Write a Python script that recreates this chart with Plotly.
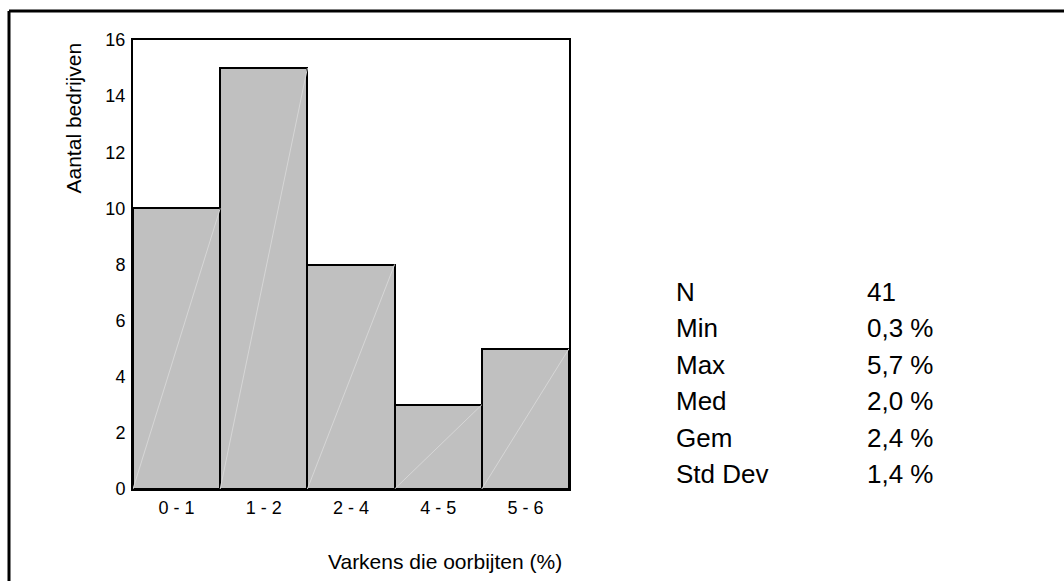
import plotly.graph_objects as go

# Klassen (% varkens die oorbijten) en aantal bedrijven per klasse
categories = ["0 - 1", "1 - 2", "2 - 4", "4 - 5", "5 - 6"]
counts = [10, 15, 8, 3, 5]

# Kengetallen rechts van de grafiek
stat_labels = ["N", "Min", "Max", "Med", "Gem", "Std Dev"]
stat_values = ["41", "0,3 %", "5,7 %", "2,0 %", "2,4 %", "1,4 %"]

y_ticks = [0, 2, 4, 6, 8, 10, 12, 14, 16]

FONT = "Arial, Liberation Sans, sans-serif"

W, H = 1064, 581
# plot area in page pixels
L, R, T, B = 133, 569, 40, 489


def px_x(x):
    return (x - L) / (R - L)


def px_y(y):
    return (B - y) / (B - T)


xs = list(range(len(categories)))

fig = go.Figure()

fig.add_trace(
    go.Bar(
        x=xs,
        y=counts,
        width=1,
        marker=dict(color="#C0C0C0", line=dict(color="black", width=2)),
        hoverinfo="skip",
        showlegend=False,
    )
)

# faint diagonal inside each bar (as in the original rendering)
for x, c in zip(xs, counts):
    fig.add_trace(
        go.Scatter(
            x=[x - 0.5, x + 0.5],
            y=[0, c],
            mode="lines",
            line=dict(color="#D6D6D6", width=1),
            hoverinfo="skip",
            showlegend=False,
        )
    )

annotations = []

# axis titles
annotations.append(
    dict(
        x=px_x(73), y=px_y(41), xref="paper", yref="paper",
        text="Aantal bedrijven", textangle=-90, showarrow=False,
        xanchor="center", yanchor="top",
        font=dict(family=FONT, size=21, color="black"),
    )
)
annotations.append(
    dict(
        x=px_x(564), y=px_y(561), xref="paper", yref="paper",
        text="Varkens die oorbijten (%)", showarrow=False,
        xanchor="right", yanchor="middle",
        font=dict(family=FONT, size=21, color="black"),
    )
)

# stats block
for i, (lab, val) in enumerate(zip(stat_labels, stat_values)):
    yy = px_y(292 + 36.4 * i)
    annotations.append(
        dict(
            x=px_x(674), y=yy, xref="paper", yref="paper", text=lab,
            showarrow=False, xanchor="left", yanchor="middle",
            font=dict(family=FONT, size=26, color="black"),
        )
    )
    annotations.append(
        dict(
            x=px_x(865), y=yy, xref="paper", yref="paper", text=val,
            showarrow=False, xanchor="left", yanchor="middle",
            font=dict(family=FONT, size=26, color="black"),
        )
    )

# outer frame (only top and left edges fall inside the window)
shapes = [
    dict(type="line", xref="paper", yref="paper",
         x0=px_x(9), y0=px_y(11), x1=px_x(1100), y1=px_y(11),
         line=dict(color="black", width=3)),
    dict(type="line", xref="paper", yref="paper",
         x0=px_x(9), y0=px_y(11), x1=px_x(9), y1=px_y(620),
         line=dict(color="black", width=3)),
]

fig.update_layout(
    width=W,
    height=H,
    margin=dict(l=L, r=W - R, t=T, b=H - B, pad=0),
    paper_bgcolor="white",
    plot_bgcolor="white",
    bargap=0,
    font=dict(family=FONT, size=18, color="black"),
    annotations=annotations,
    shapes=shapes,
)

fig.update_xaxes(
    range=[-0.5, len(categories) - 0.5],
    tickvals=xs,
    ticktext=categories,
    showline=True, mirror=True, linecolor="black", linewidth=2,
    showgrid=False, zeroline=False, ticks="",
    ticklabelstandoff=1,
    tickfont=dict(family=FONT, size=18, color="black"),
)
fig.update_yaxes(
    range=[0, 16],
    tickvals=y_ticks,
    showline=True, mirror=True, linecolor="black", linewidth=2,
    showgrid=False, zeroline=False, ticks="",
    ticklabelstandoff=2,
    tickfont=dict(family=FONT, size=18, color="black"),
)

# drop the default 8px body margin so the figure fills the window
fig.write_html(
    "out.html",
    config={"displayModeBar": False},
    post_script="document.body.style.margin='0';",
)
